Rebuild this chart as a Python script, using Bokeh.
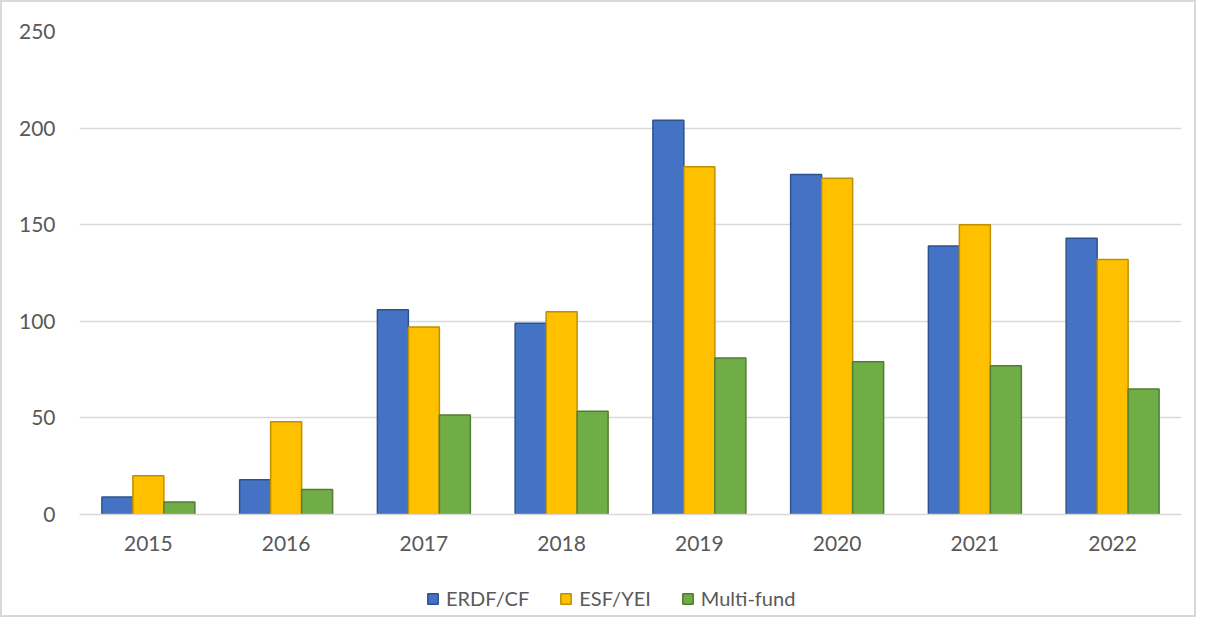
from bokeh.plotting import figure
from bokeh.models import FactorRange, Range1d, FixedTicker, Legend, LegendItem, ColumnDataSource
from bokeh.layouts import column
from bokeh.transform import dodge
from bokeh.embed import file_html
from bokeh.resources import INLINE

years = ["2015", "2016", "2017", "2018", "2019", "2020", "2021", "2022"]
erdf_cf = [9, 18, 106, 99, 204, 176, 139, 143]
esf_yei = [20, 48, 97, 105, 180, 174, 150, 132]
multi_fund = [6.5, 13, 51.5, 53.5, 81, 79, 77, 65]
series_names = ["ERDF/CF", "ESF/YEI", "Multi-fund"]
y_ticks = [0, 50, 100, 150, 200, 250]

src = ColumnDataSource(dict(years=years, erdf=erdf_cf, esf=esf_yei, mf=multi_fund))

FONT = "Lato"
W = 1192
p = figure(x_range=FactorRange(*years, range_padding=0), y_range=Range1d(0, 250),
           width=W, height=568, output_backend="svg", toolbar_location=None,
           min_border_left=77, min_border_right=13, min_border_top=29, min_border_bottom=56)

bw = 0.225
specs = [("erdf", -bw, "#4472C4", "#2F528F"),
         ("esf", 0.0, "#FFC000", "#BF9000"),
         ("mf", bw, "#70AD47", "#507E32")]
for col, off, fc, lc in specs:
    p.vbar(x=dodge("years", off, range=p.x_range), top=col, width=bw, source=src,
           fill_color=fc, line_color=lc, line_width=1.5)

p.outline_line_color = None
p.xgrid.grid_line_color = None
p.ygrid.grid_line_color = "#d9d9d9"
p.ygrid.grid_line_width = 1.5
p.yaxis.ticker = FixedTicker(ticks=y_ticks)
p.yaxis.axis_line_color = None
p.yaxis.major_tick_line_color = None
p.yaxis.minor_tick_line_color = None
p.yaxis.major_label_standoff = 18
p.xaxis.axis_line_color = "#d9d9d9"
p.xaxis.axis_line_width = 1.5
p.xaxis.major_tick_line_color = None
p.xaxis.major_label_standoff = 15
for ax in (p.xaxis, p.yaxis):
    ax.major_label_text_font = FONT
    ax.major_label_text_font_size = "21px"
    ax.major_label_text_color = "#595959"

# legend strip below the chart (legend glyph renderers hold zero-size bars)
lg = figure(x_range=Range1d(0, 1), y_range=Range1d(0, 1), width=W, height=45,
            output_backend="svg", toolbar_location=None,
            min_border_left=0, min_border_right=0, min_border_top=0, min_border_bottom=0)
lg.axis.visible = False
lg.grid.grid_line_color = None
lg.outline_line_color = None
items = []
for name, (_, _, fc, lc) in zip(series_names, specs):
    r = lg.vbar(x=[0.5], top=[0.5], bottom=[0.5], width=0,
                fill_color=fc, line_color=lc, line_width=1.5)
    items.append(LegendItem(label=name, renderers=[r]))
legend = Legend(items=items, orientation="horizontal", location=(347, 5),
                label_text_font=FONT, label_text_font_size="20px", label_text_color="#595959",
                glyph_width=13, glyph_height=13, label_standoff=7, spacing=30,
                border_line_color=None, background_fill_alpha=0, margin=0, padding=0)
lg.add_layout(legend, "center")

layout = column(p, lg, spacing=0,
                styles={"border": "2px solid #d9d9d9", "box-sizing": "border-box",
                        "width": "1196px", "height": "617px"})

open("out.html", "w").write(file_html(layout, INLINE))
